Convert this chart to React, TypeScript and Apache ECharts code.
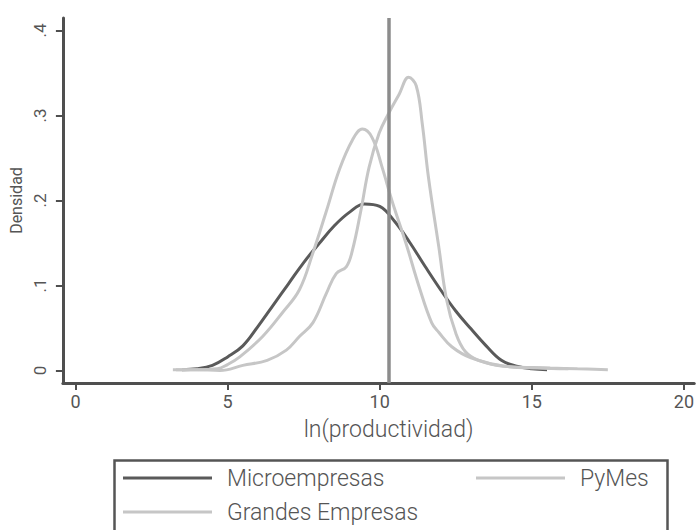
import React, { useEffect, useRef } from "react";
import * as echarts from "echarts";

// ---- Data ----
const seriesNames = ["Microempresas", "PyMes", "Grandes Empresas"];

const microX = [3.5, 4.0, 4.5, 5.0, 5.5, 6.0, 6.5, 7.0, 7.5, 8.0, 8.5, 9.0, 9.5, 10.0, 10.5, 11.0, 11.5, 12.0, 12.5, 13.0, 13.5, 14.0, 14.5, 15.0, 15.5];
const microY = [0.001, 0.002, 0.006, 0.016, 0.029, 0.052, 0.077, 0.102, 0.127, 0.149, 0.17, 0.186, 0.196, 0.193, 0.175, 0.15, 0.122, 0.095, 0.07, 0.049, 0.029, 0.012, 0.005, 0.002, 0.001];

const pymesX = [3.3, 4.0, 4.66, 5.0, 5.4, 6.15, 6.8, 7.36, 7.8, 8.25, 8.67, 9.1, 9.43, 9.75, 10.08, 10.4, 10.86, 11.3, 11.71, 11.94, 12.37, 13.0, 14.1, 15.2, 16.2];
const pymesY = [0.001, 0.001, 0.002, 0.007, 0.016, 0.04, 0.068, 0.095, 0.138, 0.188, 0.236, 0.271, 0.284, 0.274, 0.239, 0.2, 0.15, 0.098, 0.056, 0.045, 0.028, 0.015, 0.005, 0.003, 0.002];

const grandesX = [3.2, 4.0, 4.75, 5.5, 6.3, 6.93, 7.36, 7.8, 8.25, 8.57, 8.9, 9.1, 9.38, 9.65, 9.98, 10.3, 10.64, 10.95, 11.2, 11.4, 11.6, 11.94, 12.2, 12.5, 12.82, 13.25, 14.1, 15.6, 16.5, 17.5];
const grandesY = [0.001, 0.001, 0.0, 0.006, 0.012, 0.024, 0.04, 0.056, 0.091, 0.114, 0.122, 0.141, 0.188, 0.239, 0.279, 0.303, 0.325, 0.345, 0.335, 0.29, 0.228, 0.146, 0.083, 0.044, 0.022, 0.012, 0.005, 0.003, 0.002, 0.001];

const xTicks = [0, 5, 10, 15, 20];
const yTicks = [0, 0.1, 0.2, 0.3, 0.4];
const referenceLineX = 10.3;

const seriesColors = ["#5a5a5a", "#c6c6c6", "#c6c6c6"];

const zip = (xs: number[], ys: number[]) => xs.map((x, i) => [x, ys[i]]);

export default function App() {
  const ref = useRef<HTMLDivElement>(null);

  useEffect(() => {
    if (!ref.current) return;
    const chart = echarts.init(ref.current, null, { renderer: "svg" });
    const font = "Roboto";
    const axisColor = "#4f4f4f";
    const textColor = "#555555";

    const datasets = [zip(microX, microY), zip(pymesX, pymesY), zip(grandesX, grandesY)];

    const series: any[] = datasets.map((d, i) => ({
      name: seriesNames[i],
      type: "line",
      data: d,
      smooth: 0.4,
      symbol: "none",
      lineStyle: { color: seriesColors[i], width: 3 },
      itemStyle: { color: seriesColors[i] },
      z: 2 + i,
    }));
    series[series.length - 1].markLine = {
      symbol: "none",
      silent: true,
      label: { show: false },
      lineStyle: { color: "#8c8c8c", width: 3.5, type: "solid" },
      data: [{ xAxis: referenceLineX }],
      z: 10,
    };

    const legendPos = [
      { left: 123, top: 465 },
      { left: 476, top: 465 },
      { left: 123, top: 499 },
    ];
    const legends = seriesNames.map((n, i) => ({
      show: true,
      data: [n],
      left: legendPos[i].left,
      top: legendPos[i].top,
      padding: 0,
      icon: "rect",
      itemWidth: 89,
      itemHeight: 3,
      selectedMode: false,
      textStyle: {
        fontFamily: font,
        fontWeight: 300,
        fontSize: 23,
        color: textColor,
        lineHeight: 26,
        padding: [0, 0, 0, 10],
      },
    }));

    chart.setOption({
      animation: false,
      backgroundColor: "#ffffff",
      textStyle: { fontFamily: font },
      grid: { left: 62, right: 0, top: 18, bottom: 147, containLabel: false },
      legend: legends,
      xAxis: {
        type: "value",
        min: -0.415,
        max: 20.34,
        name: "ln(productividad)",
        nameLocation: "middle",
        nameGap: 35,
        nameTextStyle: { fontFamily: font, fontWeight: 300, fontSize: 23, color: textColor, padding: [0, 0, 0, 20] },
        axisLine: { show: true, onZero: false, lineStyle: { color: axisColor, width: 3 } },
        axisTick: { show: true, length: 7, customValues: xTicks, lineStyle: { color: axisColor, width: 2 } },
        axisLabel: { customValues: xTicks, fontFamily: font, fontSize: 18, color: textColor, margin: 9 },
        splitLine: { show: false },
      },
      yAxis: {
        type: "value",
        min: -0.0147,
        max: 0.4147,
        name: "Densidad",
        nameLocation: "middle",
        nameRotate: 90,
        nameGap: 36,
        nameTextStyle: { fontFamily: font, fontSize: 16, color: textColor },
        axisLine: { show: true, onZero: false, lineStyle: { color: axisColor, width: 3 } },
        axisTick: { show: true, length: 7, customValues: yTicks, lineStyle: { color: axisColor, width: 2 } },
        axisLabel: {
          customValues: yTicks,
          rotate: 90,
          fontFamily: font,
          fontSize: 17,
          color: textColor,
          margin: 14,
          formatter: (v: number) => (v === 0 ? "0" : "." + Math.round(v * 10)),
        },
        splitLine: { show: false },
      },
      graphic: [
        {
          type: "rect",
          left: 112,
          top: 458,
          shape: { width: 553, height: 100 },
          style: { fill: "none", stroke: "#555555", lineWidth: 2.5 },
          silent: true,
        },
      ],
      series,
    });

    return () => chart.dispose();
  }, []);

  return (
    <div
      ref={ref}
      style={{ position: "fixed", left: 0, top: 0, width: 697, height: 530, background: "#fff" }}
    />
  );
}
